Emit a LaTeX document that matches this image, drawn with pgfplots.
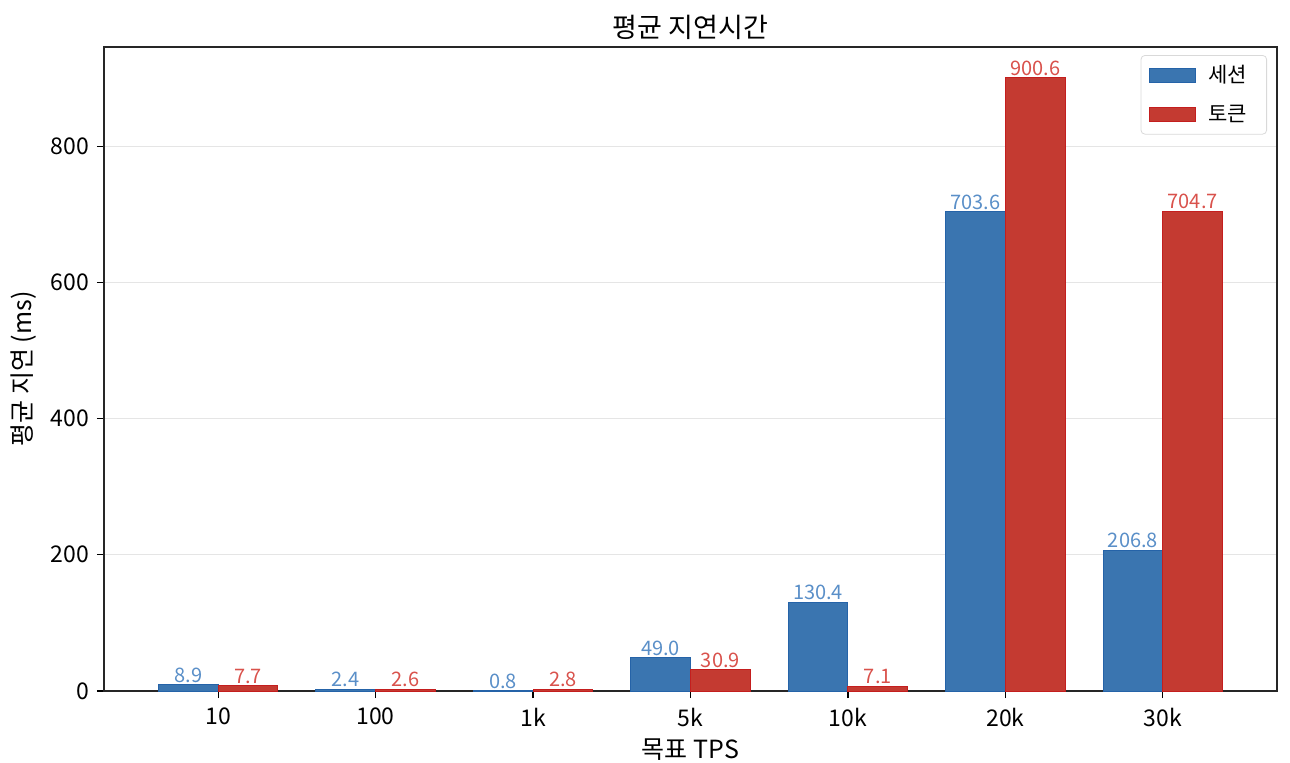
\documentclass[border=0pt]{standalone}
\usepackage{pgfplots}
\pgfplotsset{compat=1.18}
\usepackage{fontspec}
\setmainfont{Noto Sans CJK KR}
\definecolor{sblue}{HTML}{3A75B0}
\definecolor{sbluee}{HTML}{2563A8}
\definecolor{sred}{HTML}{C43A31}
\definecolor{srede}{HTML}{C41E1E}
\definecolor{lblue}{HTML}{5A8FC8}
\definecolor{lred}{HTML}{D9524C}
\begin{document}
\begin{tikzpicture}
\path[use as bounding box] (-52pt,-35.5pt) rectangle (593pt,345.5pt);
\begin{axis}[
  at={(0,0)}, anchor=south west,
  scale only axis, width=586.5pt, height=322pt,
  xmin=-0.725, xmax=6.725, ymin=0, ymax=945.6,
  ybar, bar width=0.38,
  xtick={0,1,2,3,4,5,6},
  xticklabels={10,100,1k,5k,10k,20k,30k},
  ytick={0,200,400,600,800},
  tick pos=left, tick align=outside,
  major tick length=3.5pt,
  every tick/.style={black, line width=0.6pt},
  ymajorgrids, grid style={gray!20, line width=0.5pt},
  axis line style={black!85, line width=0.6pt},
  /pgf/number format/assume math mode=true,
  ticklabel style={font=\fontsize{11.5}{13}\selectfont},
  xticklabel style={yshift=-1.5pt},
  yticklabel style={xshift=-0.5pt},
  title={평균 지연시간}, title style={font=\fontsize{13.5}{15}\selectfont, yshift=-6pt},
  xlabel={목표 TPS}, ylabel={평균 지연 (ms)},
  label style={font=\fontsize{12.5}{14}\selectfont},
  xlabel style={yshift=1pt}, ylabel style={yshift=0.5pt},
  nodes near coords,
  nodes near coords style={font=\fontsize{10}{12}\selectfont, inner sep=0pt, anchor=base, yshift=1.2pt,
    /pgf/number format/fixed, /pgf/number format/fixed zerofill, /pgf/number format/precision=1},
  legend style={at={(0.9915,0.9875)}, anchor=north east, draw=gray!30, rounded corners=2pt,
    font=\fontsize{10.5}{12}\selectfont, row sep=5.5pt, inner xsep=4pt, inner ysep=3pt,
    nodes={inner xsep=6pt}},
  legend cell align=left,
  legend image code/.code={\draw[#1, sharp corners] (0pt,-3.5pt) rectangle (23pt,3.5pt);},
]
\addplot[bar shift=-0.19, fill=sblue, draw=sbluee, line width=0.5pt,
  every node near coord/.append style={text=lblue}]
  coordinates {(0,8.9) (1,2.4) (2,0.8) (3,49.0) (4,130.4) (5,703.6) (6,206.8)};
\addlegendentry{세션}
\addplot[bar shift=0.19, fill=sred, draw=srede, line width=0.5pt,
  every node near coord/.append style={text=lred}]
  coordinates {(0,7.7) (1,2.6) (2,2.8) (3,30.9) (4,7.1) (5,900.6) (6,704.7)};
\addlegendentry{토큰}
\end{axis}
\end{tikzpicture}
\end{document}
